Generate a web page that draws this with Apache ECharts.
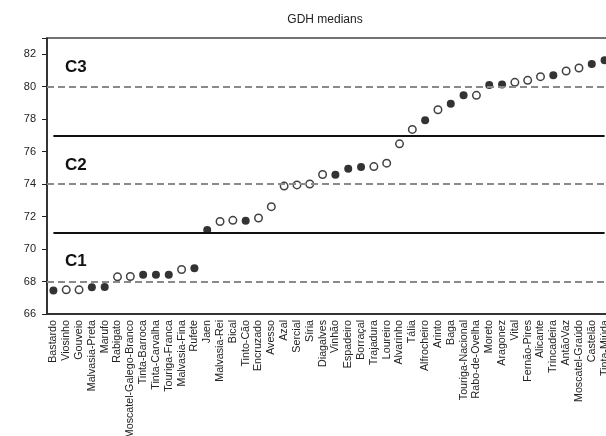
<!DOCTYPE html>
<html>
<head>
<meta charset="utf-8">
<script src="https://cdn.jsdelivr.net/npm/echarts@6/dist/echarts.min.js"></script>
<style>
  html, body { margin: 0; padding: 0; background: #fff; overflow: hidden; }
  /* the original figure is cropped on the right, so the canvas is a bit wider than the window */
  #chart { width: 612px; height: 436px; }
</style>
</head>
<body>
<div id="chart"></div>
<script>
// grape varieties, sorted by median GDH
const varieties = ["Bastardo", "Viosinho", "Gouveio", "Malvasia-Preta", "Marufo", "Rabigato",
    "Moscatel-Galego-Branco", "Tinta-Barroca", "Tinta-Carvalha", "Touriga-Franca", "Malvasia-Fina",
    "Rufete", "Jaen", "Malvasia-Rei", "Bical", "Tinto-Cão", "Encruzado", "Avesso", "Azal", "Sercial",
    "Síria", "Diagalves", "Vinhão", "Espadeiro", "Borraçal", "Trajadura", "Loureiro", "Alvarinho",
    "Tália", "Alfrocheiro", "Arinto", "Baga", "Touriga-Nacional", "Rabo-de-Ovelha", "Moreto",
    "Aragonez", "Vital", "Fernão-Pires", "Alicante", "Trincadeira", "AntãoVaz", "Moscatel-Graúdo",
    "Castelão", "Tinta-Miúda"];

const gdhMedian = [67.44, 67.49, 67.49, 67.65, 67.67, 68.29, 68.31, 68.41, 68.41, 68.41, 68.74,
    68.82, 71.17, 71.70, 71.77, 71.75, 71.91, 72.61, 73.88, 73.95, 74.01, 74.59, 74.58, 74.94,
    75.06, 75.08, 75.29, 76.48, 77.37, 77.94, 78.58, 78.95, 79.47, 79.47, 80.10, 80.14, 80.27,
    80.39, 80.62, 80.70, 80.97, 81.15, 81.40, 81.63];

// 1 = filled marker, 0 = hollow marker
const filled = [1, 0, 0, 1, 1, 0, 0, 1, 1, 1, 0, 1, 1, 0, 0, 1, 0, 0, 0, 0, 0, 0, 1, 1, 1, 0, 0, 0,
    0, 1, 0, 1, 1, 0, 1, 1, 0, 0, 0, 1, 0, 0, 1, 1];

const classBounds = [71, 77];        // solid lines between classes
const classMidLines = [68, 74, 80];  // dashed lines
const yTicks = { min: 66, max: 83, interval: 2 };

const font = '"Liberation Sans", Arial, sans-serif';

const chart = echarts.init(document.getElementById('chart'));

const filledData = gdhMedian.map((v, i) => filled[i] ? v : null);
const hollowData = gdhMedian.map((v, i) => filled[i] ? null : v);

chart.setOption({
    animation: false,
    title: {
        text: 'GDH medians',
        left: 320, top: 9, textAlign: 'center',
        textStyle: { fontFamily: font, fontSize: 12, fontWeight: 'normal', color: '#222' }
    },
    grid: {
        left: 47, right: 1, top: 38, bottom: 122,
        outerBoundsMode: 'none',   // labels may run off the bottom, like the original
        show: true, borderColor: '#444', borderWidth: 1.5, backgroundColor: 'transparent'
    },
    xAxis: {
        type: 'category',
        data: varieties,
        boundaryGap: true,
        axisLine: { lineStyle: { color: '#333', width: 2 } },
        axisTick: { show: false },
        axisLabel: {
            rotate: 90, interval: 0, margin: 6,
            fontFamily: font, fontSize: 10.7, color: '#222'
        },
        splitLine: { show: false }
    },
    yAxis: {
        type: 'value',
        min: yTicks.min, max: yTicks.max, interval: yTicks.interval,
        axisLine: { show: true, lineStyle: { color: '#222', width: 1.5 } },
        axisTick: { show: true, length: 5, lineStyle: { color: '#222' } },
        axisLabel: {
            margin: 11, fontFamily: font, fontSize: 11, color: '#222',
            formatter: v => (v === yTicks.max ? '' : String(v))
        },
        splitLine: { show: false }
    },
    graphic: [
        { type: 'text', x: 65, y: 67, style: { text: 'C3', font: 'bold 17px ' + font, fill: '#111', verticalAlign: 'middle' } },
        { type: 'text', x: 65, y: 165, style: { text: 'C2', font: 'bold 17px ' + font, fill: '#111', verticalAlign: 'middle' } },
        { type: 'text', x: 65, y: 261, style: { text: 'C1', font: 'bold 17px ' + font, fill: '#111', verticalAlign: 'middle' } }
    ],
    series: [
        {
            type: 'scatter',
            data: hollowData,
            symbol: 'circle',
            symbolSize: 7.5,
            z: 3,
            itemStyle: { color: '#fff', borderColor: '#111', borderWidth: 1.5 },
            markLine: {
                silent: true,
                symbol: 'none',
                label: { show: false },
                lineStyle: { color: '#8a8a8a', type: [7, 4], width: 1.8 },
                data: classMidLines.map(v => ({ yAxis: v }))
            }
        },
        {
            type: 'scatter',
            data: filledData,
            symbol: 'circle',
            symbolSize: 8,
            z: 3,
            itemStyle: { color: '#000' },
            markLine: {
                silent: true,
                symbol: 'none',
                label: { show: false },
                lineStyle: { color: '#111', type: 'solid', width: 2 },
                data: classBounds.map(v => [
                    { coord: [varieties[0], v] },
                    { coord: [varieties[varieties.length - 1], v] }
                ])
            }
        }
    ]
});
</script>
</body>
</html>
